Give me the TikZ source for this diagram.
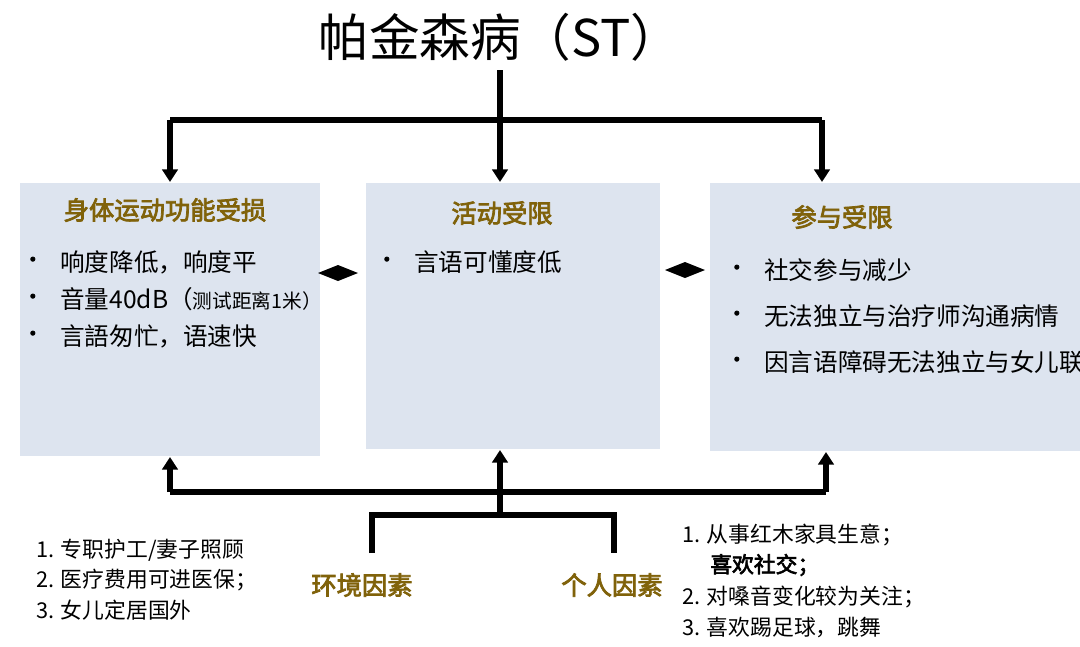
\documentclass[tikz,border=0pt]{standalone}
\usepackage{fontspec}
\setmainfont{Noto Sans CJK SC}[AutoFakeBold=3]
\usetikzlibrary{arrows.meta}
\definecolor{boxfill}{RGB}{221,228,239}
\definecolor{headc}{RGB}{128,98,10}
\begin{document}
\begin{tikzpicture}[x=0.025cm,y=-0.025cm,
  panel/.style={fill=boxfill,draw=none},
  conn/.style={line width=4pt,-{Triangle[length=9pt,width=11pt]}},
  line/.style={line width=4pt},
  head/.style={font=\fontsize{18}{20}\selectfont\bfseries,text=headc},
  txt/.style={font=\fontsize{17.5}{20}\selectfont,anchor=west,inner sep=0},
  low/.style={font=\fontsize{15.5}{18}\selectfont,anchor=west,inner sep=0},
  bul/.style={font=\fontsize{15}{18}\selectfont\bfseries,anchor=west,inner sep=0}]
\useasboundingbox (0,0) rectangle (1080,646);
\fill[white] (0,0) rectangle (1080,646);
\node[font=\fontsize{36}{40}\selectfont] (title) at (500,37) {帕金森病（ST）};
\node[panel,minimum width=300*0.025cm,minimum height=273*0.025cm,anchor=north west] (b1) at (20,183) {};
\node[panel,minimum width=294*0.025cm,minimum height=266*0.025cm,anchor=north west] (b2) at (366,183) {};
\node[panel,minimum width=380*0.025cm,minimum height=268*0.025cm,anchor=north west] (b3) at (710,183) {};
\node[head] (h1) at (165,210) {身体运动功能受损};
\node[head] (h2) at (502,213) {活动受限};
\node[head] (h3) at (842,217) {参与受限};
\foreach \n/\y/\t in {a/262/响度降低，响度平,b/299/{音量40dB（\fontsize{14}{16}\selectfont 测试距离1米）},c/336/言語匆忙，语速快}{
  \node[bul] (p1\n) at (22,\y) {•};
  \node[txt] (l1\n) at (60,\y) {\t};}
\node[bul] (p2a) at (376,262) {•};
\node[txt] (l2a) at (414,262) {言语可懂度低};
\foreach \n/\y/\t in {a/270/社交参与减少,b/316/无法独立与治疗师沟通病情,c/362/因言语障碍无法独立与女儿联系}{
  \node[bul] (p3\n) at (726,\y) {•};
  \node[txt] (l3\n) at (764,\y) {\t};}
% top connectors
\coordinate (t0) at (500,70);
\coordinate (tj) at (500,120);
\coordinate (tl) at (170,120);
\coordinate (tr) at (822,120);
\draw[line] (t0) -- (tj);
\draw[line] (tl) -- (tr);
\draw[conn] (tl) -- (170,182);
\draw[conn] (tj) -- (500,182);
\draw[conn] (tr) -- (822,182);
% diamonds
\fill (318,273) -- (338,265) -- (358,273) -- (338,281) -- cycle;
\fill (665,270) -- (685,262) -- (705,270) -- (685,278) -- cycle;
% bottom
\coordinate (bl) at (170,492);
\coordinate (br) at (826,492);
\coordinate (bj) at (500,515);
\coordinate (bm) at (500,450);
\draw[line] (bl) -- (br);
\draw[conn] (bl) -- (170,457);
\draw[conn] (br) -- (826,452);
\draw[conn] (bj) -- (bm);
\draw[line] (372,553) -- (372,515) -- (614,515) -- (614,553);
\node[font=\fontsize{18}{20}\selectfont\bfseries,text=headc] (env) at (362,585) {环境因素};
\node[font=\fontsize{18}{20}\selectfont\bfseries,text=headc] (per) at (612,585) {个人因素};
\node[low] at (36,550) {1. 专职护工/妻子照顾};
\node[low] at (36,580) {2. 医疗费用可进医保；};
\node[low] at (36,610) {3. 女儿定居国外};
\node[low] at (682,535) {1. 从事红木家具生意；};
\node[low] at (710,565) {\bfseries 喜欢社交；};
\node[low] at (682,597) {2. 对嗓音变化较为关注；};
\node[low] at (682,627) {3. 喜欢踢足球，跳舞};
\end{tikzpicture}
\end{document}
